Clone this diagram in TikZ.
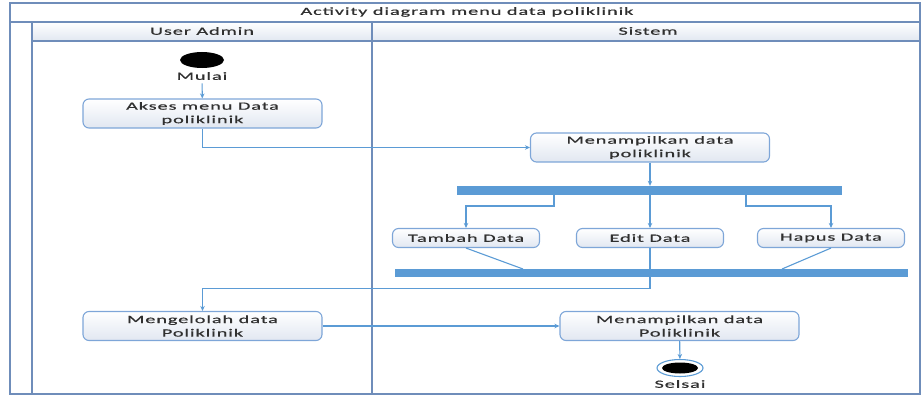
\documentclass[tikz,border=0pt]{standalone}
\usepackage{fontspec}
\setmainfont[FakeStretch=1.85,LetterSpace=8,FakeBold=0.6]{Carlito}
\usepackage{tikz}
\usetikzlibrary{arrows.meta,positioning,shapes,calc}
\definecolor{laneblue}{HTML}{6F8DBA}
\definecolor{flowblue}{HTML}{5B9BD5}
\definecolor{boxblue}{HTML}{7EA6D8}
\definecolor{boxshade}{HTML}{E1E7F1}
\definecolor{inkgrey}{HTML}{303030}

\begin{document}
\begin{tikzpicture}[
    x=1pt, y=-1pt,
    font=\fontsize{11}{13.5}\selectfont, text=inkgrey,
    lane/.style={draw=laneblue, line width=1.5pt},
    act/.style={rectangle, rounded corners=6pt, draw=boxblue, line width=1.1pt, top color=white, bottom color=boxshade, minimum width=239pt, minimum height=29pt, align=center, inner sep=1pt},
    smallact/.style={act, minimum width=147pt, minimum height=19pt},
    bar/.style={rectangle, fill=flowblue, inner sep=0pt, minimum height=9pt},
    initial/.style={ellipse, fill=black, minimum width=44pt, minimum height=16pt, inner sep=0pt},
    final/.style={ellipse, draw=flowblue, fill=white, line width=1.1pt, minimum width=46pt, minimum height=17pt, inner sep=0pt},
    arrow/.style={-{Stealth[length=5pt,width=4.5pt]}, draw=flowblue, line width=1.1pt},
    link/.style={draw=flowblue, line width=1.1pt}
]
\useasboundingbox (0,0) rectangle (923,396);

% Swimlane frame
\shade[top color=white, bottom color=boxshade] (32,22) rectangle (920,41);
\draw[lane] (10,3) rectangle (920,394);
\draw[lane] (10,22) -- (920,22);
\draw[lane] (32,41) -- (920,41);
\draw[lane] (32,22) -- (32,394);
\draw[lane] (372,22) -- (372,394);

\node (judul) at (467,12) {Activity diagram menu data poliklinik};
\node (useradmin) at (202,31) {User Admin};
\node (sistem) at (648,31) {Sistem};

% User Admin lane
\node[initial] (start) at (202,60) {};
\node (mulai) at (202,76) {Mulai};
\node[act] (akses) at (202.5,113.5) {Akses menu Data\\poliklinik};
\node[act] (kelola) at (202.5,326) {Mengelolah data\\Poliklinik};

% Sistem lane
\node[act] (tampil1) at (650,147.5) {Menampilkan data\\poliklinik};
\node[bar, minimum width=385pt] (fork) at (649.5,190.5) {};
\node[smallact] (tambah) at (466,238) {Tambah Data};
\node[smallact] (edit) at (650,238) {Edit Data};
\node[smallact] (hapus) at (831,238) {Hapus Data};
\node[bar, minimum width=513pt, minimum height=8pt] (join) at (651.5,273) {};
\node[act] (tampil2) at (679.5,326) {Menampilkan data\\Poliklinik};
\node[final] (selesai) at (680,368) {};
\node[ellipse, fill=black, minimum width=36pt, minimum height=11pt, inner sep=0pt] (selesaiin) at (680,368) {};
\node (selsai) at (680,384) {Selsai};

\coordinate (f1) at (554,195);
\coordinate (f3) at (746,195);
\coordinate (j1) at (523,269);
\coordinate (j3) at (782,269);

% Arrows
\draw[arrow] (mulai) -- (akses);
\draw[arrow] (akses.south) |- (tampil1.west);
\draw[arrow] (tampil1.south) -- (tampil1.south |- fork.north);
\draw[arrow] (f1) -- ++(0,11) -| (tambah.north);
\draw[arrow] (fork.south -| edit.north) -- (edit.north);
\draw[arrow] (f3) -- ++(0,11) -| (hapus.north);
\draw[link] (tambah.south) -- (j1);
\draw[link] (edit.south) -- (edit.south |- join.north);
\draw[link] (hapus.south) -- (j3);
\draw[arrow] (join.south -| edit.south) -- ++(0,11) -| (kelola.north);
\draw[arrow] (kelola) -- (tampil2);
\draw[arrow] (tampil2) -- (selesai);

\end{tikzpicture}
\end{document}
